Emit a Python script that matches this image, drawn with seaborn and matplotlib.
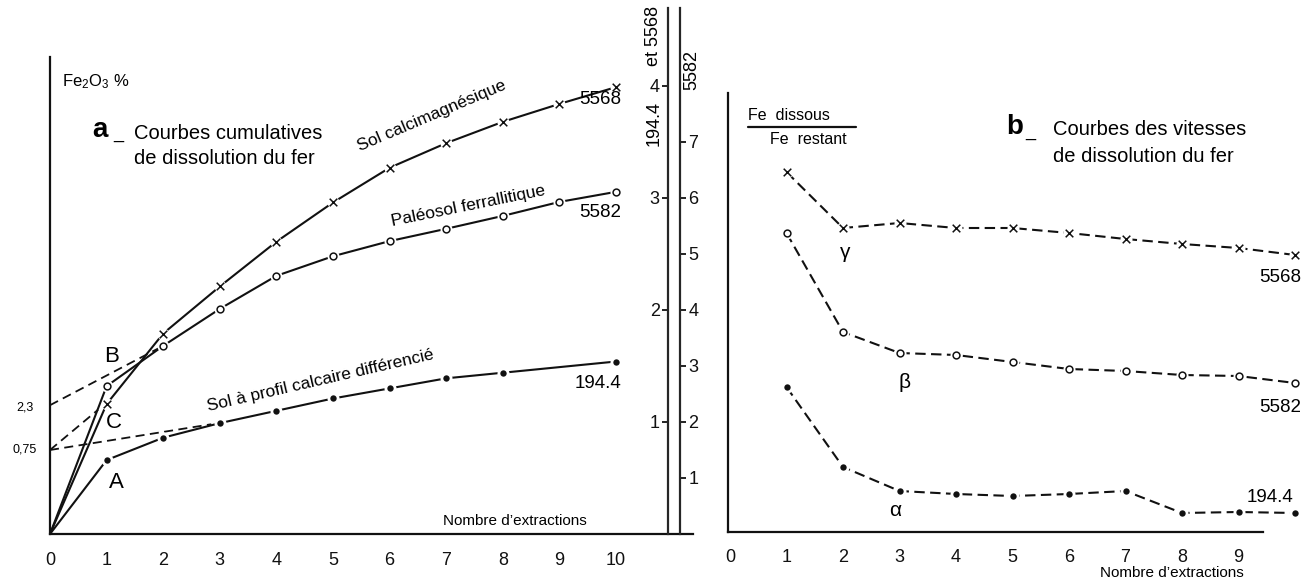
import numpy as np
import matplotlib
matplotlib.use("Agg")
import matplotlib.pyplot as plt
import seaborn as sns
from matplotlib.lines import Line2D

# --- a: cumulative dissolution of iron (Fe2O3 %) ---------------------------
extractions = [0, 1, 2, 3, 4, 5, 6, 7, 8, 9, 10]
cum_5568 = [0, 1.16, 1.79, 2.21, 2.61, 2.96, 3.27, 3.49, 3.68, 3.84, 3.99]   # scale "194.4 et 5568"
cum_5582 = [0, 2.64, 3.36, 4.02, 4.61, 4.96, 5.23, 5.45, 5.68, 5.93, 6.11]   # scale "5582"
extractions_1944 = [0, 1, 2, 3, 4, 5, 6, 7, 8, 10]
cum_1944 = [0, 0.66, 0.86, 0.99, 1.10, 1.21, 1.30, 1.39, 1.44, 1.54]         # scale "194.4 et 5568"
intercept_5582 = 2.3
intercept_1944 = 0.75
scale1_ticks = [1, 2, 3, 4]
scale2_ticks = [1, 2, 3, 4, 5, 6, 7]
xticks_a = list(range(11))

# --- b: dissolution rate (Fe dissous / Fe restant) --------------------------
rate_extractions = [1, 2, 3, 4, 5, 6, 7, 8, 9, 10]
rate_5568 = [3.60, 3.04, 3.09, 3.04, 3.04, 2.99, 2.93, 2.88, 2.84, 2.77]
rate_5582 = [2.99, 2.00, 1.79, 1.77, 1.70, 1.63, 1.61, 1.57, 1.56, 1.49]
rate_1944 = [1.45, 0.65, 0.41, 0.38, 0.36, 0.38, 0.41, 0.19, 0.20, 0.19]
xticks_b = list(range(10))

sns.set_style("white")
plt.rcParams["font.family"] = ["Liberation Sans", "DejaVu Sans"]
plt.rcParams["mathtext.fontset"] = "custom"
plt.rcParams["mathtext.rm"] = "Liberation Sans"
plt.rcParams["mathtext.default"] = "regular"

W, H = 1316, 587
fig = plt.figure(figsize=(W / 100, H / 100), dpi=100)
fig.patch.set_facecolor("white")


def px(x, y):
    return x / W, 1 - y / H


def ftext(x, y, s, size=12, **kw):
    kw.setdefault("ha", "center")
    kw.setdefault("va", "center")
    fig.text(*px(x, y), s, fontsize=size, color="black", **kw)


INK = "#111111"
LW = 1.5
DASH = (0, (5, 2.6))


def curve(ax, xs, ys, marker, ls="-", msize=30):
    sns.lineplot(x=xs, y=ys, ax=ax, color=INK, lw=LW, linestyle=ls,
                 estimator=None, sort=False, zorder=2)
    mx, my = xs[1:] if xs[0] == 0 else xs, ys[1:] if xs[0] == 0 else ys
    # white halo so the line stops short of each marker
    sns.scatterplot(x=mx, y=my, ax=ax, color="white", s=75, marker="o",
                    linewidth=0, zorder=3)
    if marker == "x":
        sns.scatterplot(x=mx, y=my, ax=ax, color=INK, s=msize, marker="x",
                        linewidth=1.1, zorder=4)
    elif marker == "o":
        sns.scatterplot(x=mx, y=my, ax=ax, facecolor="white", edgecolor=INK,
                        s=msize * 0.8, marker="o", linewidth=1.1, zorder=4)
    else:
        sns.scatterplot(x=mx, y=my, ax=ax, color=INK, s=msize * 0.7,
                        marker="o", linewidth=0, zorder=4)


# ---------------------------------------------------------------- panel a
ppu_x = 56.6
ax1 = fig.add_axes([50 / W, (H - 534) / H, (693 - 50) / W, (534 - 8) / H])
ax1.set_xlim(0, (693 - 50) / ppu_x)
y1_top = (534 - 8) / 112
ax1.set_ylim(0, y1_top)
ax1.patch.set_visible(False)
for s in ("top", "right"):
    ax1.spines[s].set_visible(False)
ax1.spines["left"].set_bounds(0, (534 - 57) / 112)
for s in ("left", "bottom"):
    ax1.spines[s].set_color(INK)
    ax1.spines[s].set_linewidth(1.6)
ax1.set_xticks(xticks_a)
ax1.set_xticklabels([str(t) for t in xticks_a])
ax1.set_yticks([])
ax1.tick_params(axis="x", direction="out", length=4, width=1.3, pad=9,
                labelsize=13, colors=INK)

# scale for 194.4 and 5568
ax_s1 = ax1.twinx()
ax_s1.set_ylim(0, y1_top)
for s in ("top", "right", "bottom"):
    ax_s1.spines[s].set_visible(False)
ax_s1.spines["left"].set_visible(True)
ax_s1.spines["left"].set_position(("data", (668 - 50) / ppu_x))
ax_s1.spines["left"].set_linewidth(1.6)
ax_s1.yaxis.tick_left()
ax_s1.set_yticks(scale1_ticks)
ax_s1.set_yticklabels([str(t) for t in scale1_ticks])
ax_s1.tick_params(axis="y", direction="out", length=4, width=1.3, pad=2,
                  labelsize=13, colors=INK)

# scale for 5582
ax_s2 = ax1.twinx()
ax_s2.set_ylim(0, 2 * y1_top)
for s in ("top", "left", "bottom"):
    ax_s2.spines[s].set_visible(False)
ax_s2.spines["right"].set_position(("data", (680 - 50) / ppu_x))
ax_s2.spines["right"].set_linewidth(1.6)
ax_s2.yaxis.tick_right()
ax_s2.set_yticks(scale2_ticks)
ax_s2.set_yticklabels([str(t) for t in scale2_ticks])
ax_s2.tick_params(axis="y", direction="out", length=4, width=1.3, pad=2,
                  labelsize=13, colors=INK)

curve(ax_s1, extractions, cum_5568, "x")
curve(ax_s1, extractions_1944, cum_1944, ".")
curve(ax_s2, extractions, cum_5582, "o")

# extrapolated initial segments
sns.lineplot(x=[0, 2], y=[intercept_5582, cum_5582[2]], ax=ax_s2, color=INK,
             lw=1.3, linestyle=(0, (5, 3)), estimator=None, sort=False)
sns.lineplot(x=[0, 0.85], y=[intercept_1944, cum_5568[1] - 0.05], ax=ax_s1,
             color=INK, lw=1.3, linestyle=(0, (5, 3)), estimator=None, sort=False)
sns.lineplot(x=[0, 2.85], y=[intercept_1944, cum_1944[3] - 0.01], ax=ax_s1,
             color=INK, lw=1.3, linestyle=(0, (5, 3)), estimator=None, sort=False)

# ---------------------------------------------------------------- panel b
ppu_b = 56.5
x0_b = 730
ax2 = fig.add_axes([728 / W, (H - 532) / H, (1300 - 728) / W, (532 - 93) / H])
ax2.set_xlim((728 - x0_b) / ppu_b, (1300 - x0_b) / ppu_b)
ax2.set_ylim(0, (532 - 93) / 100)
ax2.patch.set_visible(False)
for s in ("top", "right"):
    ax2.spines[s].set_visible(False)
for s in ("left", "bottom"):
    ax2.spines[s].set_color(INK)
    ax2.spines[s].set_linewidth(1.6)
ax2.spines["bottom"].set_bounds((728 - x0_b) / ppu_b, (1263 - x0_b) / ppu_b)
ax2.set_xticks(xticks_b)
ax2.set_xticklabels([str(t) for t in xticks_b])
ax2.set_yticks([])
ax2.tick_params(axis="x", direction="out", length=4, width=1.3, pad=8,
                labelsize=13, colors=INK)

curve(ax2, rate_extractions, rate_5568, "x", ls=DASH)
curve(ax2, rate_extractions, rate_5582, "o", ls=DASH)
curve(ax2, rate_extractions, rate_1944, ".", ls=DASH)

# ---------------------------------------------------------------- texts a
ftext(62, 82, "Fe$_2$O$_3$ %", size=12, ha="left")
ftext(92, 130, "a", size=20, weight="bold", ha="left")
ftext(113, 134, "_", size=13, ha="left")
ftext(134, 133, "Courbes cumulatives", size=14.5, ha="left")
ftext(134, 158, "de dissolution du fer", size=14.5, ha="left")
ftext(432, 116, "Sol calcimagnésique", size=12.5, rotation=23)
ftext(468, 206, "Paléosol ferrallitique", size=12.5, rotation=11.5)
ftext(320, 381, "Sol à profil calcaire différencié", size=12.5, rotation=13)
ftext(600, 100, "5568", size=13.5)
ftext(600, 212, "5582", size=13.5)
ftext(598, 383, "194.4", size=13.5)
ftext(112, 357, "B", size=16)
ftext(114, 423, "C", size=16)
ftext(116, 482, "A", size=16)
ftext(25, 407, "2,3", size=9)
ftext(25, 450, "0,75", size=9)
ftext(587, 521, "Nombre d\u2019extractions", size=11, ha="right")
ftext(654, 123, "194.4", size=13, rotation=90)
ftext(654, 36, "et 5568", size=13, rotation=90)
ftext(692, 70, "5582", size=13, rotation=90)

# ---------------------------------------------------------------- texts b
ftext(748, 116, "Fe  dissous", size=11.5, ha="left")
ftext(770, 140, "Fe  restant", size=11.5, ha="left")
fig.add_artist(Line2D([748 / W, 856 / W], [1 - 127 / H, 1 - 127 / H],
                      color=INK, lw=1.6))
ftext(1006, 127, "b", size=20, weight="bold", ha="left")
ftext(1025, 132, "_", size=13, ha="left")
ftext(1053, 130, "Courbes des vitesses", size=14.5, ha="left")
ftext(1053, 157, "de dissolution du fer", size=14.5, ha="left")
ftext(845, 252, "\u03b3", size=15)
ftext(905, 383, "\u03b2", size=15)
ftext(895, 510, "\u03b1", size=15)
ftext(1280, 277, "5568", size=13.5)
ftext(1280, 407, "5582", size=13.5)
ftext(1270, 497, "194.4", size=13.5)
ftext(1172, 573, "Nombre d\u2019extractions", size=11)

fig.savefig("out.png", dpi=100, facecolor="white")
